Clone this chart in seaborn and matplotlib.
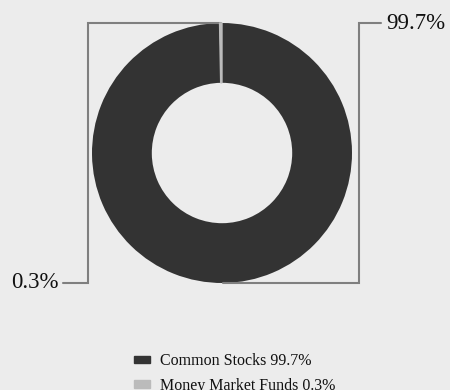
import numpy as np
import matplotlib
matplotlib.use("Agg")
import matplotlib.pyplot as plt
import matplotlib.patches as mpatches
import seaborn as sns

# Portfolio allocation
categories = ["Common Stocks", "Money Market Funds"]
values = [99.7, 0.3]
colors = ["#333333", "#bbbbbb"]

sns.set_theme(style="white")
plt.rcParams["font.family"] = ["Liberation Serif", "DejaVu Serif"]

BG = "#ececec"
LINE = "#7f7f7f"

fig = plt.figure(figsize=(4.5, 3.9), dpi=100, facecolor=BG)
ax = fig.add_axes([0, 0, 1, 1])
ax.set_facecolor(BG)

wedges, _ = ax.pie(values, colors=colors, startangle=90, counterclock=False,
                   radius=1.0, wedgeprops=dict(width=0.46, linewidth=0))
# give the thin slice a hairline outline in its own colour so it stays visible
for w, c, v in zip(wedges, colors, values):
    if v < 1:
        w.set_edgecolor(c)
        w.set_linewidth(1.0)
        w.set_zorder(3)

# pixel-aligned data frame: donut centre at (222, 153) px, radius 130 px
ax.set_xlim(-222 / 130, (450 - 222) / 130)
ax.set_ylim((153 - 390) / 130, 153 / 130)
ax.set_aspect("equal")
ax.axis("off")

for w, v in zip(wedges, values):
    ang = np.deg2rad((w.theta1 + w.theta2) / 2)
    x0, y0 = np.cos(ang), np.sin(ang)
    side = 1 if x0 >= 0 else -1
    y1 = -y0
    xe = 1.054 if side > 0 else -1.031
    xl = side * 1.225
    ax.plot([x0, xe, xe, xl], [y0, y0, y1, y1], color=LINE, lw=1.5,
            solid_joinstyle="miter", clip_on=False)
    ax.text(xl + side * 0.035, y1, f"{v}%", ha="left" if side > 0 else "right",
            va="center", fontsize=16.5, color="#111111")

handles = [mpatches.Patch(color=c, label=f"{n} {v}%")
           for n, v, c in zip(categories, values, colors)]
fig.legend(handles=handles, loc="upper left", bbox_to_anchor=(0.298, 0.095),
           frameon=False, fontsize=11.5, handlelength=1.0, handleheight=0.32,
           handletextpad=0.62, labelspacing=0.55, borderaxespad=0, borderpad=0,
           labelcolor="#111111")

fig.savefig("out.png", dpi=100, facecolor=BG)
